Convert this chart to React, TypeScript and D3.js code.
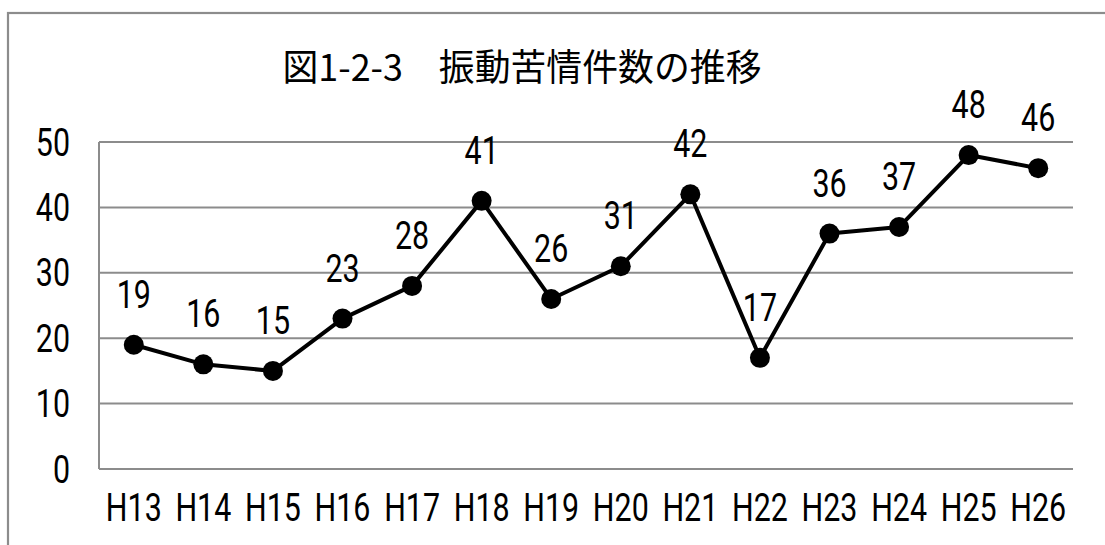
import React from "react";
import * as d3 from "d3";

const categories = ["H13", "H14", "H15", "H16", "H17", "H18", "H19", "H20", "H21", "H22", "H23", "H24", "H25", "H26"];
const values = [19, 16, 15, 23, 28, 41, 26, 31, 42, 17, 36, 37, 48, 46];
const yTicks = [0, 10, 20, 30, 40, 50];
const title = "図1-2-3　振動苦情件数の推移";

const W = 1105;
const H = 545;
const plot = { left: 99, right: 1073, top: 142, bottom: 469 };
const NUM_FONT = "Roboto, 'Noto Sans CJK JP', sans-serif";
const FS = 38.5;
const SX = 0.79;
const GRID = "#8c8c8c";

export default function App() {
  const x = d3.scaleBand<string>().domain(categories).range([plot.left, plot.right]);
  const cx = (c: string) => (x(c) ?? 0) + x.bandwidth() / 2;
  const y = d3.scaleLinear().domain([0, 50]).range([plot.bottom, plot.top]);
  const pts: [number, number][] = values.map((v, i) => [cx(categories[i]), y(v)]);
  const line = d3.line()(pts) ?? "";

  const numText = (key: string, tx: number, ty: number, s: string, anchor: "start" | "middle" | "end") => (
    <g key={key} transform={`translate(${tx},${ty}) scale(${SX},1)`}>
      <text textAnchor={anchor} fontFamily={NUM_FONT} fontSize={FS} fill="#000">
        {s}
      </text>
    </g>
  );

  return (
    <svg width={W} height={H} style={{ position: "absolute", left: 0, top: 0, background: "#fff" }}>
      <rect x={0} y={0} width={W} height={H} fill="#fff" />
      {/* outer chart border (extends beyond the frame) */}
      <rect x={8} y={13} width={W + 20} height={H + 20} fill="none" stroke={GRID} strokeWidth={2.2} />
      {/* title */}
      <text
        x={522}
        y={81}
        textAnchor="middle"
        fontFamily="'Noto Sans CJK JP', sans-serif"
        fontSize={37}
        textLength={479}
        lengthAdjust="spacingAndGlyphs"
        fill="#000"
      >
        {title}
      </text>
      {/* gridlines */}
      {yTicks.map((t) => (
        <line key={"g" + t} x1={plot.left} x2={plot.right} y1={y(t)} y2={y(t)} stroke={GRID} strokeWidth={2} />
      ))}
      {/* left axis */}
      <line x1={plot.left} x2={plot.left} y1={plot.top} y2={plot.bottom} stroke={GRID} strokeWidth={2} />
      {/* y tick labels */}
      {yTicks.map((t) => numText("yl" + t, 70, y(t) + 13.5, String(t), "end"))}
      {/* x labels */}
      {categories.map((c) => numText("xl" + c, cx(c), 521, c, "middle"))}
      {/* series line */}
      <path d={line} fill="none" stroke="#000" strokeWidth={4} strokeLinejoin="round" />
      {pts.map((p, i) => (
        <circle key={"c" + i} cx={p[0]} cy={p[1]} r={10} fill="#000" />
      ))}
      {/* data labels */}
      {pts.map((p, i) => numText("dl" + i, p[0], p[1] - 37, String(values[i]), "middle"))}
    </svg>
  );
}
